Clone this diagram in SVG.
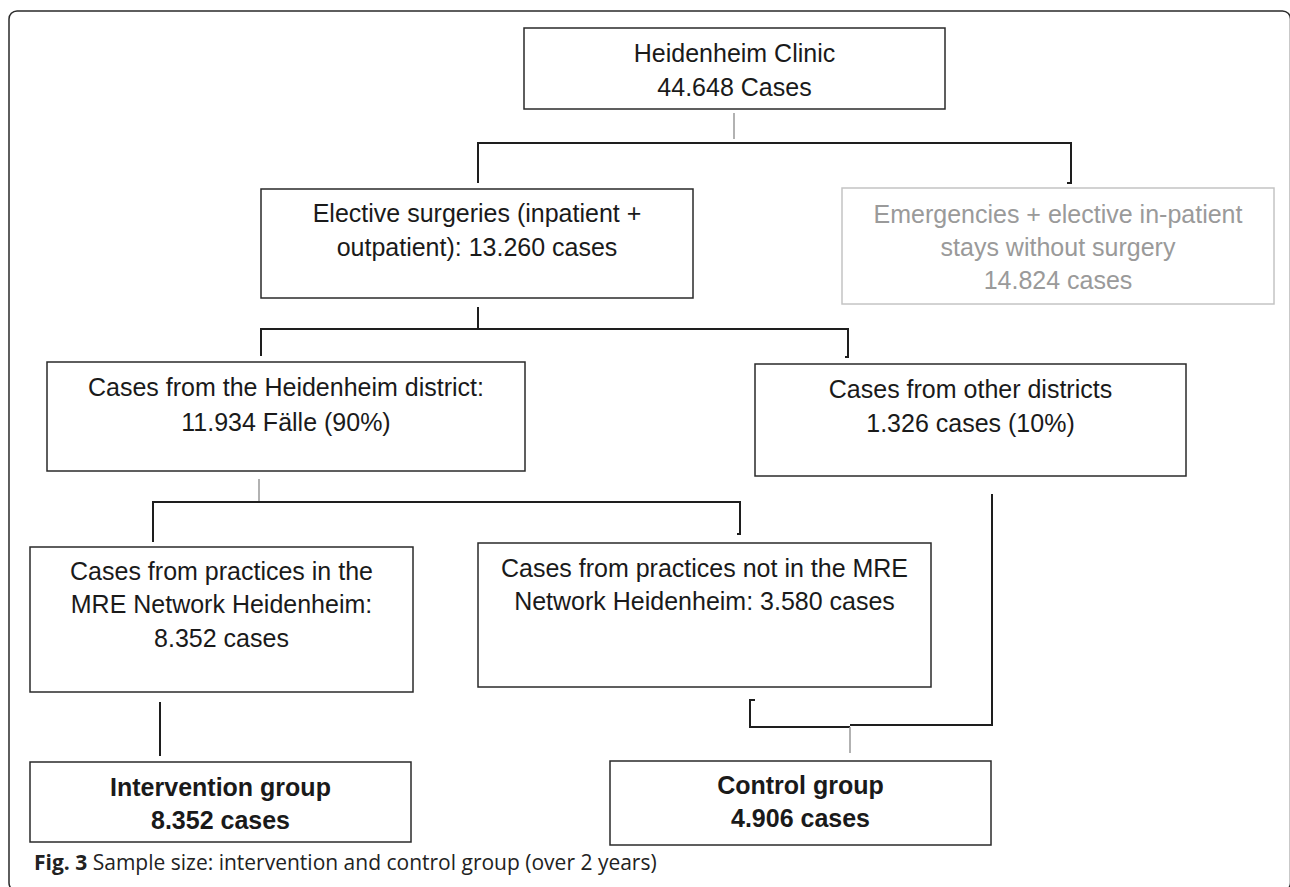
<svg xmlns="http://www.w3.org/2000/svg" width="1290" height="887" viewBox="0 0 1290 887">
<style>
.box{fill:#fff;stroke:#2a2a2a;stroke-width:1.5}
.gbox{fill:#fff;stroke:#c4c4c4;stroke-width:1.5}
.t{font-family:"Liberation Sans",Arial,sans-serif;font-size:25px;fill:#1a1a1a;text-anchor:middle}
.gt{fill:#9a9a9a}
.b{font-weight:bold}
.c{fill:none;stroke:#1e1e1e;stroke-width:2}
.g{fill:none;stroke:#999;stroke-width:1.5}
.cap{font-family:"Open Sans","DejaVu Sans",sans-serif;font-size:21px;fill:#222}
</style>
<rect x="9" y="11" width="1281.5" height="880" rx="8" fill="none" stroke="#2a2a2a" stroke-width="1.5"/>
<g id="connectors">
<line class="g" x1="734" y1="113" x2="734" y2="139"/>
<path class="c" d="M478 183 V143 H1071 V183 H1067"/>
<path class="c" d="M478 307 V329"/>
<path class="c" d="M261 356 V329 H848 V357 H845"/>
<line class="g" x1="259" y1="479" x2="259" y2="502"/>
<path class="c" d="M153 542 V502 H740 V534 H737"/>
<path class="c" d="M160 702 V756"/>
<path class="c" d="M992 494 V725 H850"/>
<path class="c" d="M850 727 H750 V700 H755"/>
<line class="g" x1="850" y1="727" x2="850" y2="753"/>
</g>
<g id="clinic">
<rect class="box" x="524" y="28" width="421" height="81"/>
<text class="t" x="734.5" y="62">Heidenheim Clinic</text>
<text class="t" x="734.5" y="96">44.648 Cases</text>
</g>
<g id="elective">
<rect class="box" x="261" y="189" width="432" height="109"/>
<text class="t" x="477" y="222">Elective surgeries (inpatient +</text>
<text class="t" x="477" y="256">outpatient): 13.260 cases</text>
</g>
<g id="emergencies">
<rect class="gbox" x="842" y="188" width="432" height="116"/>
<text class="t gt" x="1058" y="223">Emergencies + elective in-patient</text>
<text class="t gt" x="1058" y="256">stays without surgery</text>
<text class="t gt" x="1058" y="289">14.824 cases</text>
</g>
<g id="district">
<rect class="box" x="47" y="362" width="478" height="109"/>
<text class="t" x="286" y="396">Cases from the Heidenheim district:</text>
<text class="t" x="286" y="431">11.934 Fälle (90%)</text>
</g>
<g id="other">
<rect class="box" x="755" y="364" width="431" height="112"/>
<text class="t" x="970.5" y="398">Cases from other districts</text>
<text class="t" x="970.5" y="432">1.326 cases (10%)</text>
</g>
<g id="inMRE">
<rect class="box" x="30" y="547" width="383" height="145"/>
<text class="t" x="221.5" y="580">Cases from practices in the</text>
<text class="t" x="221.5" y="613">MRE Network Heidenheim:</text>
<text class="t" x="221.5" y="647">8.352 cases</text>
</g>
<g id="notMRE">
<rect class="box" x="478" y="543" width="453" height="144"/>
<text class="t" x="704.5" y="577">Cases from practices not in the MRE</text>
<text class="t" x="704.5" y="610">Network Heidenheim: 3.580 cases</text>
</g>
<g id="intervention">
<rect class="box" x="30" y="762" width="381" height="80"/>
<text class="t b" x="220.5" y="796">Intervention group</text>
<text class="t b" x="220.5" y="829">8.352 cases</text>
</g>
<g id="control">
<rect class="box" x="610" y="761" width="381" height="84"/>
<text class="t b" x="800.5" y="794">Control group</text>
<text class="t b" x="800.5" y="827">4.906 cases</text>
</g>
<text class="cap" x="34" y="870"><tspan font-weight="bold">Fig. 3</tspan> Sample size: intervention and control group (over 2 years)</text>
</svg>
